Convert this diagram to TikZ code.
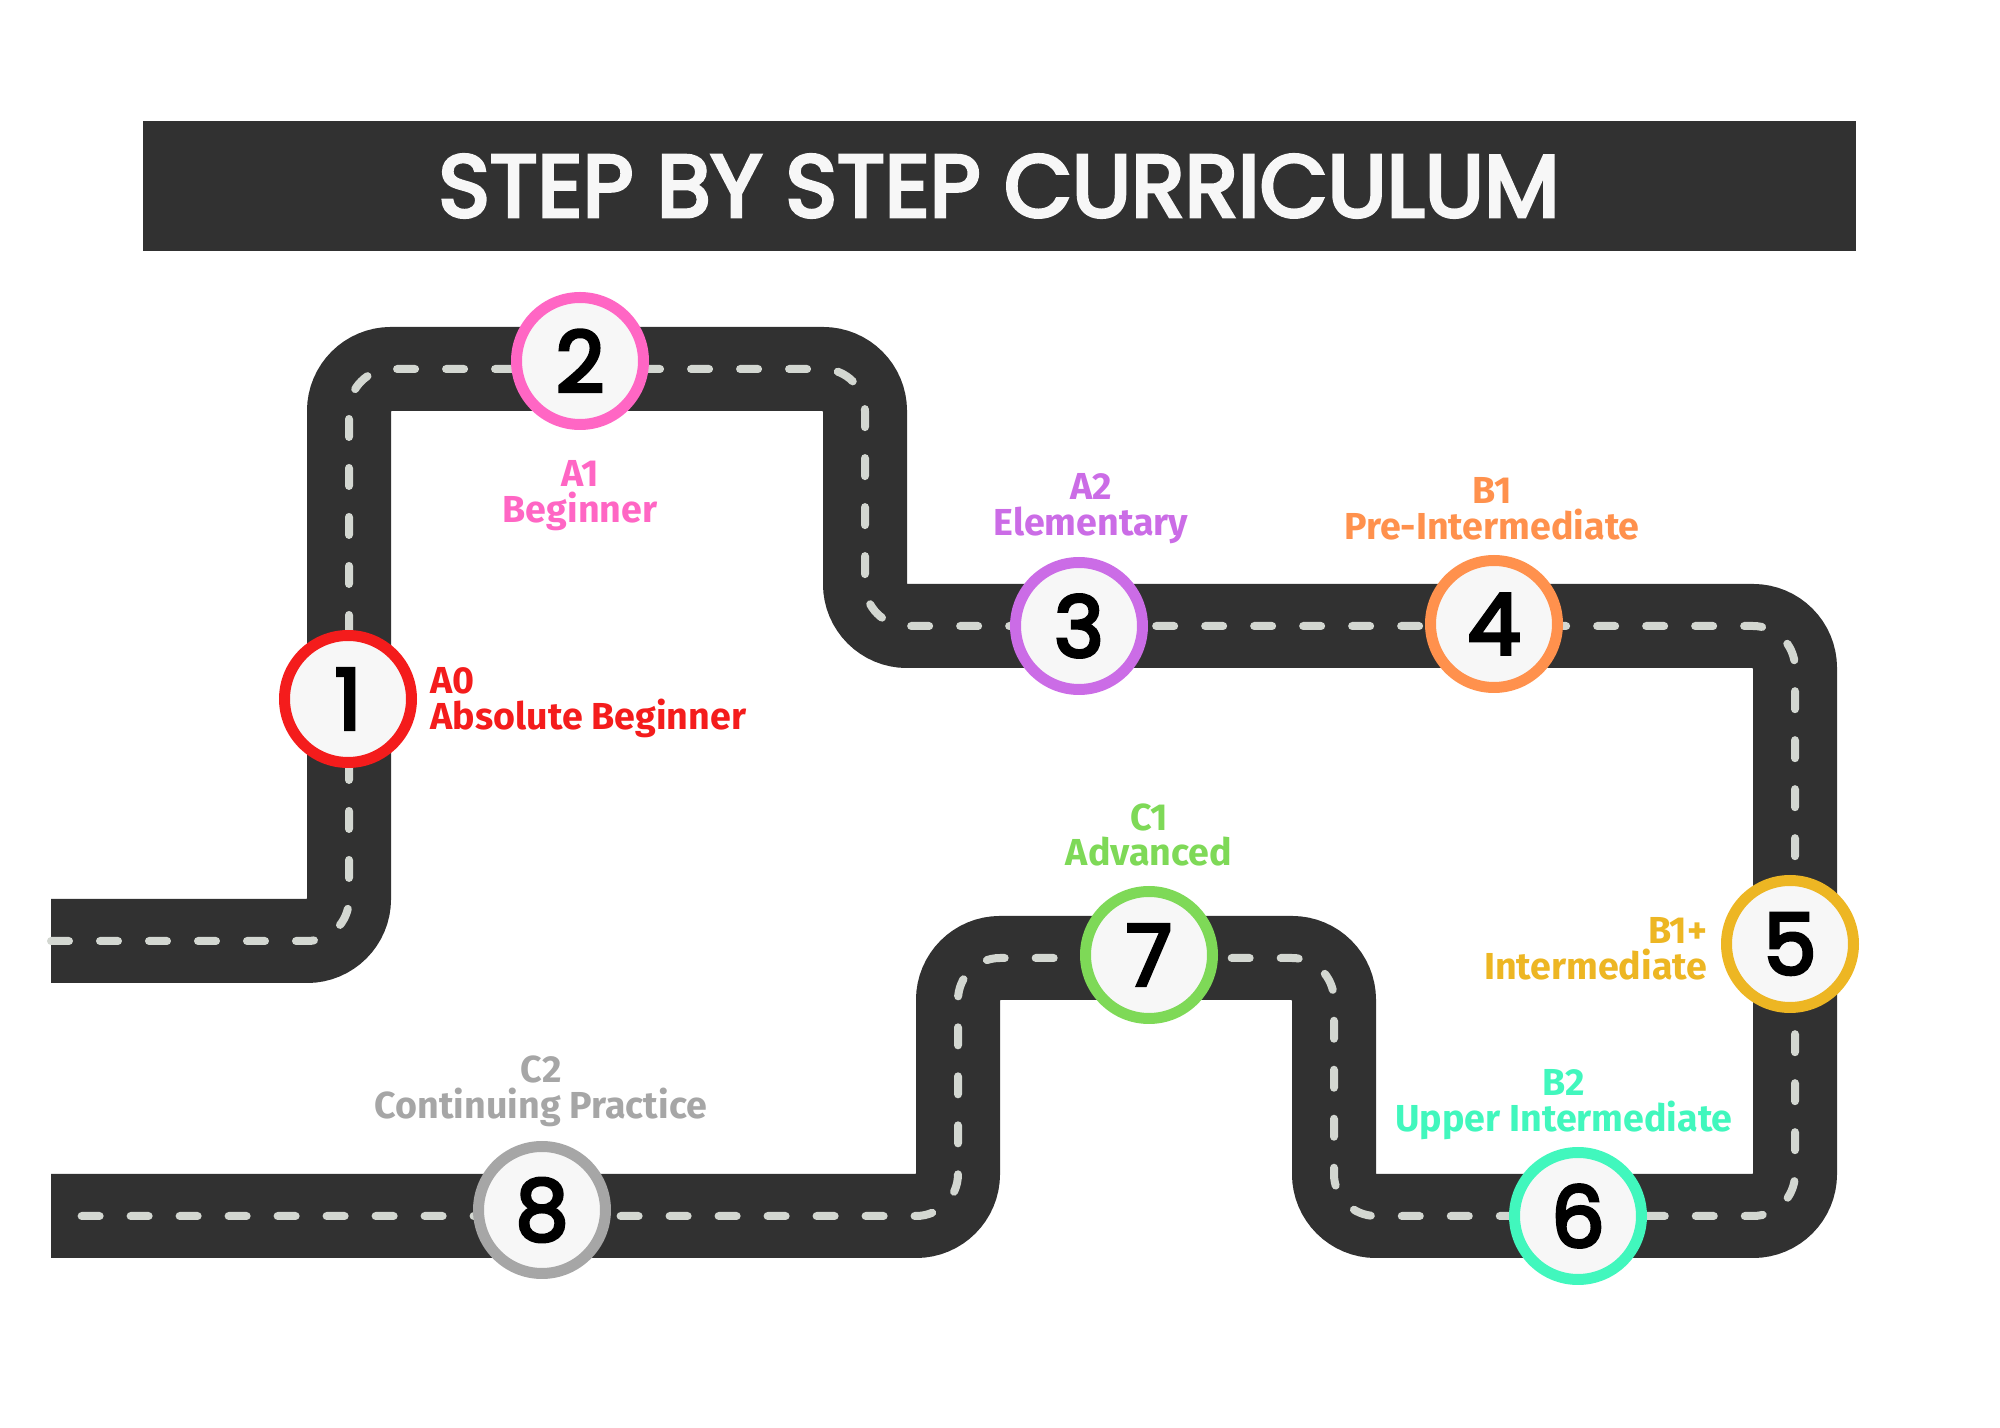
\documentclass[tikz,border=0pt]{standalone}
\usepackage{fontspec}
\setmainfont{Fira Sans}
\newfontfamily\roundfont[FakeBold=4]{Poppins}
\definecolor{road}{HTML}{313131}
\definecolor{lane}{HTML}{D3D7D1}
\definecolor{stopfill}{HTML}{F7F7F7}
\definecolor{cA0}{HTML}{F41C1C}
\definecolor{cA1}{HTML}{FF66C4}
\definecolor{cA2}{HTML}{CB6CE6}
\definecolor{cB1}{HTML}{FF914D}
\definecolor{cB1p}{HTML}{EDB623}
\definecolor{cB2}{HTML}{41F7BD}
\definecolor{cC1}{HTML}{7ED957}
\definecolor{cC2}{HTML}{A6A6A6}

\begin{document}
\begin{tikzpicture}[x=0.1mm, y=-0.1mm,
  stopnode/.style={circle, draw=#1, line width=1.1mm, fill=stopfill,
    minimum size=12.7mm, inner sep=0pt,
    font=\roundfont\fontsize{24pt}{24pt}\selectfont},
  lvl/.style={align=center, inner sep=0pt, text=#1,
    font=\bfseries\fontsize{10.7pt}{10.2pt}\selectfont}]

  \useasboundingbox (0,0) rectangle (2000,1428);

  % title bar
  \fill[road] (143,121) rectangle (1856,251);
  \node[text=stopfill, font=\roundfont\fontsize{25pt}{25pt}\selectfont]
    (title) at (999,186) {STEP BY STEP CURRICULUM};

  % road corners
  \coordinate (r0) at (51,941);
  \coordinate (r1) at (349,941);
  \coordinate (r2) at (349,369);
  \coordinate (r3) at (865,369);
  \coordinate (r4) at (865,626);
  \coordinate (r5) at (1795,626);
  \coordinate (r6) at (1795,1216);
  \coordinate (r7) at (1334,1216);
  \coordinate (r8) at (1334,958);
  \coordinate (r9) at (958,958);
  \coordinate (r10) at (958,1216);
  \coordinate (r11) at (51,1216);

  % road and lane marks
  \draw[road, line width=8.4mm, rounded corners=4.2mm]
    (r0) -- (r1) -- (r2) -- (r3) -- (r4) -- (r5) -- (r6) -- (r7)
    -- (r8) -- (r9) -- (r10) -- (r11);
  \draw[lane, line width=0.8mm, line cap=round, rounded corners=4.2mm,
    dash pattern=on 1.8mm off 3.1mm]
    (r0) -- (r1) -- (r2) -- (r3) -- (r4) -- (r5) -- (r6) -- (r7)
    -- (r8) -- (r9) -- (r10) -- (r11);

  % stops
  \node[stopnode=cA0]  (s1) at (348,699)   {1};
  \node[stopnode=cA1]  (s2) at (580,361)   {2};
  \node[stopnode=cA2]  (s3) at (1079,626)  {3};
  \node[stopnode=cB1]  (s4) at (1494,624)  {4};
  \node[stopnode=cB1p] (s5) at (1790,944)  {5};
  \node[stopnode=cB2]  (s6) at (1578,1216) {6};
  \node[stopnode=cC1]  (s7) at (1149,955)  {7};
  \node[stopnode=cC2]  (s8) at (542,1210)  {8};

  % levels
  \node[lvl=cA0, anchor=west, align=left] (l1) at (430,703) {A0\\Absolute Beginner};
  \node[lvl=cA1]  (l2) at (580,496)  {A1\\Beginner};
  \node[lvl=cA2]  (l3) at (1091,509) {A2\\Elementary};
  \node[lvl=cB1]  (l4) at (1492,509) {B1\\Pre-Intermediate};
  \node[lvl=cB1p, anchor=east, align=right] (l5) at (1708,949) {B1+\\Intermediate};
  \node[lvl=cB2]  (l6) at (1564,1105) {B2\\Upper Intermediate};
  \node[lvl=cC1]  (l7) at (1149,835) {C1\\Advanced};
  \node[lvl=cC2]  (l8) at (541,1091) {C2\\Continuing Practice};
\end{tikzpicture}
\end{document}
